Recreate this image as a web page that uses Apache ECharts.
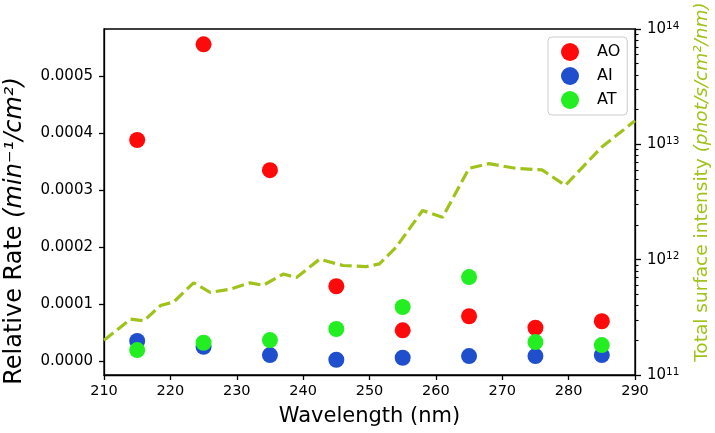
<!DOCTYPE html>
<html>
<head>
<meta charset="utf-8">
<script src="https://cdn.jsdelivr.net/npm/echarts@6/dist/echarts.min.js"></script>
<style>html,body{margin:0;padding:0;background:#fff}#c{width:715px;height:433px}</style>
</head>
<body>
<div id="c"></div>
<script>
var wavelengths = [215, 225, 235, 245, 255, 265, 275, 285];
var rateAO = [0.000388, 0.000556, 0.000335, 0.000131, 0.0000535, 0.0000782, 0.000058, 0.0000694];
var rateAI = [0.0000347, 0.0000245, 0.000010, 0.0000018, 0.0000053, 0.0000083, 0.0000083, 0.000010];
var rateAT = [0.0000188, 0.0000317, 0.0000364, 0.0000558, 0.0000945, 0.000147, 0.0000329, 0.0000276];

var intensityX = [210, 214, 216, 218.5, 220.5, 223.5, 226, 229, 232, 234, 237, 239, 242.5, 246, 249.5, 251.5, 254, 258, 261, 265, 268, 272, 276, 279.5, 285, 290];
var intensityY = [2.0e11, 3.05e11, 2.95e11, 4.0e11, 4.3e11, 6.3e11, 5.2e11, 5.55e11, 6.3e11, 6.0e11, 7.5e11, 7.0e11, 1.01e12, 8.9e11, 8.7e11, 9.2e11, 1.28e12, 2.67e12, 2.33e12, 6.2e12, 6.8e12, 6.2e12, 6.0e12, 4.4e12, 9.5e12, 1.6e13];

var leftTicks = [0, 0.0001, 0.0002, 0.0003, 0.0004, 0.0005];
var rightMajorTicks = [1e11, 1e12, 1e13, 1e14];
var rightMinorTicks = [2e11,3e11,4e11,5e11,6e11,7e11,8e11,9e11,2e12,3e12,4e12,5e12,6e12,7e12,8e12,9e12,2e13,3e13,4e13,5e13,6e13,7e13,8e13,9e13];

function pairs(xs, ys) { return xs.map(function (x, i) { return [x, ys[i]]; }); }

var FONT = 'DejaVu Sans';
var GREEN = '#9fc31a';
var chart = echarts.init(document.getElementById('c'), null, {renderer: 'canvas'});
chart.setOption({
  animation: false,
  textStyle: {fontFamily: FONT},
  grid: {left: 104, right: 80, top: 29, bottom: 58, show: true, borderColor: '#000', borderWidth: 1.3, backgroundColor: 'transparent'},
  legend: {
    data: ['AO', 'AI', 'AT'],
    orient: 'vertical',
    left: 548, top: 37,
    icon: 'circle',
    itemWidth: 18, itemHeight: 18, itemGap: 6,
    padding: [6, 7, 6, 13],
    backgroundColor: 'rgba(255,255,255,0.8)',
    borderColor: '#cccccc', borderWidth: 1, borderRadius: 4,
    textStyle: {fontFamily: FONT, fontSize: 16, color: '#000', padding: [0, 0, 0, 13]}
  },
  xAxis: {
    type: 'value', min: 210, max: 290, interval: 10,
    axisLine: {show: true, onZero: false, lineStyle: {color: '#000', width: 1.3}},
    axisTick: {show: true, inside: false, length: 5, lineStyle: {color: '#000', width: 1.3}},
    axisLabel: {fontFamily: FONT, fontSize: 14.5, color: '#000', margin: 9},
    splitLine: {show: false}
  },
  yAxis: [
    {
      type: 'value', min: -0.000025, max: 0.000583, position: 'left',
      axisLine: {show: true, lineStyle: {color: '#000', width: 1.3}},
      axisTick: {show: true, inside: false, length: 5, customValues: leftTicks, lineStyle: {color: '#000', width: 1.3}},
      axisLabel: {fontFamily: FONT, fontSize: 15, color: '#000', margin: 11, customValues: leftTicks,
        formatter: function (v) { return v.toFixed(4); }},
      splitLine: {show: false}
    },
    {
      type: 'log', logBase: 10, min: 1e11, max: 1e14, position: 'right',
      axisLine: {show: true, lineStyle: {color: '#000', width: 1.3}},
      axisTick: {show: true, inside: false, length: 6, customValues: rightMajorTicks, lineStyle: {color: '#000', width: 1.3}},
      axisLabel: {
        fontFamily: FONT, fontSize: 15, color: '#000', margin: 12, customValues: rightMajorTicks,
        formatter: function (v) { return '10{sup|' + Math.round(Math.log10(v)) + '}'; },
        rich: {sup: {fontFamily: FONT, fontSize: 10.5, color: '#000', verticalAlign: 'top', padding: [0, 0, 6, 0]}}
      },
      splitLine: {show: false}
    },
    {
      type: 'log', logBase: 10, min: 1e11, max: 1e14, position: 'right',
      axisLine: {show: false},
      axisTick: {show: true, inside: false, length: 3.5, customValues: rightMinorTicks, lineStyle: {color: '#000', width: 1.1}},
      axisLabel: {show: false},
      splitLine: {show: false}
    }
  ],
  graphic: [
    {type: 'text', x: 15, y: 231, rotation: Math.PI / 2,
      style: {text: '{n|Relative Rate }{i|(min⁻¹/cm²)}', align: 'center', verticalAlign: 'middle',
        rich: {n: {fontFamily: FONT, fontSize: 24, fill: '#000'}, i: {fontFamily: FONT, fontSize: 24, fontStyle: 'italic', fill: '#000'}}}},
    {type: 'text', x: 702, y: 182, rotation: Math.PI / 2,
      style: {text: '{n|Total surface intensity }{i|(phot/s/cm²/nm)}', align: 'center', verticalAlign: 'middle',
        rich: {n: {fontFamily: FONT, fontSize: 18.5, fill: GREEN}, i: {fontFamily: FONT, fontSize: 18.5, fontStyle: 'italic', fill: GREEN}}}},
    {type: 'text', x: 369.5, y: 417, style: {text: 'Wavelength (nm)', align: 'center', verticalAlign: 'middle',
      fontFamily: FONT, fontSize: 21, fill: '#000'}}
  ],
  series: [
    {name: 'Intensity', type: 'line', yAxisIndex: 1, data: pairs(intensityX, intensityY), symbol: 'none',
      lineStyle: {color: GREEN, width: 3.2, type: [12, 5]}, z: 2},
    {name: 'AO', type: 'scatter', yAxisIndex: 0, data: pairs(wavelengths, rateAO), symbolSize: 16,
      itemStyle: {color: '#ff0a0a', opacity: 1}, z: 3},
    {name: 'AI', type: 'scatter', yAxisIndex: 0, data: pairs(wavelengths, rateAI), symbolSize: 16,
      itemStyle: {color: '#1f4fcc', opacity: 1}, z: 3},
    {name: 'AT', type: 'scatter', yAxisIndex: 0, data: pairs(wavelengths, rateAT), symbolSize: 16,
      itemStyle: {color: '#22ee22', opacity: 1}, z: 3}
  ]
});
</script>
</body>
</html>
